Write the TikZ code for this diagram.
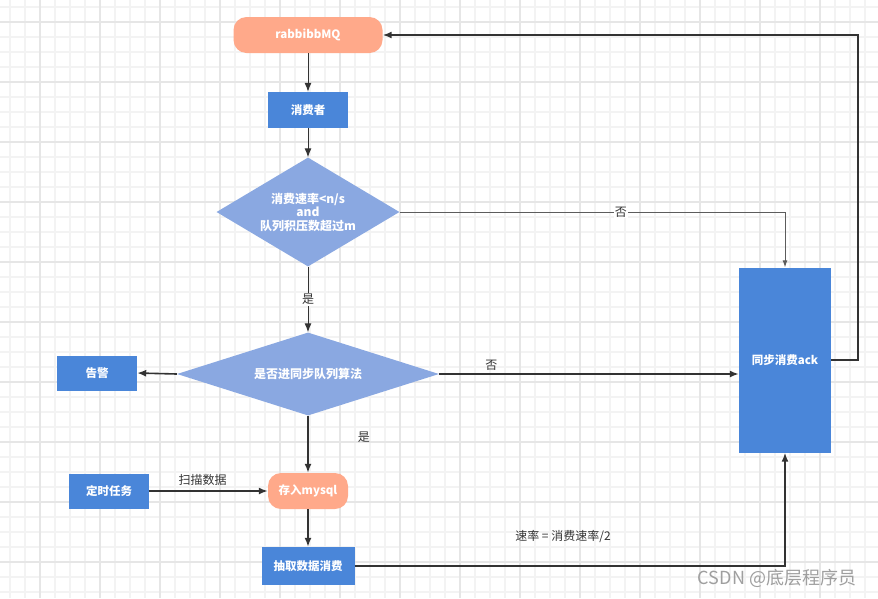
\documentclass[tikz,border=0pt]{standalone}
\usepackage{fontspec}
\setmainfont{Noto Sans CJK SC}
\usetikzlibrary{shapes.geometric,arrows.meta}
\definecolor{boxBlue}{HTML}{4A86D9}
\definecolor{diaBlue}{HTML}{8AA8E1}
\definecolor{peach}{HTML}{FFA98A}
\definecolor{lineGray}{HTML}{333333}
\definecolor{minorGray}{HTML}{F3F3F3}
\definecolor{majorGray}{HTML}{E6E6E6}

\begin{document}
\begin{tikzpicture}
[x=1pt,y=-1pt,
  boxDecorate/.style={rectangle,fill=boxBlue,text=white,inner sep=0pt,
    font=\fontsize{11.5}{13}\selectfont\bfseries},
  roundDecorate/.style={rectangle,rounded corners=13pt,fill=peach,text=white,
    inner sep=0pt,font=\fontsize{11.5}{13}\selectfont\bfseries},
  diamondDecorate/.style={diamond,fill=diaBlue,text=white,inner sep=0pt,
    align=center,font=\fontsize{12}{13.5}\selectfont\bfseries},
  lineDecorate/.style={-{Latex[length=9pt,width=7pt]},line width=1.6pt,draw=lineGray},
  thinDecorate/.style={-{Latex[length=7pt,width=5pt]},line width=0.9pt,draw=lineGray!80},
  labelDecorate/.style={text=lineGray,inner sep=1pt,font=\fontsize{12}{14}\selectfont}]
\useasboundingbox (0,0) rectangle (878,598);
%% background grid
\fill[white] (0,0) rectangle (878,598);
\foreach \x in {10,25,...,865}
  \draw[minorGray,line width=1.3pt] (\x,0) -- (\x,598);
\foreach \y in {7,22,...,592}
  \draw[minorGray,line width=1.3pt] (0,\y) -- (878,\y);
\foreach \x in {40,100,...,820}
  \draw[majorGray,line width=1.3pt] (\x,0) -- (\x,598);
\foreach \y in {22,82,...,562}
  \draw[majorGray,line width=1.3pt] (0,\y) -- (878,\y);
%% nodes
\node (mq) at (308,35) [roundDecorate,minimum width=149pt,minimum height=36pt] {rabbibbMQ};
\node (consumer) at (308,110) [boxDecorate,minimum width=80pt,minimum height=36pt] {消费者};
\node (check) at (308,212) [diamondDecorate,aspect=1.68,minimum width=183pt,minimum height=109pt]
  {消费速率<n/s\\and\\队列积压数超过m};
\node (sync) at (308,374) [diamondDecorate,aspect=3.16,minimum width=262pt,minimum height=83pt]
  {是否进同步队列算法};
\node (warn) at (97,373) [boxDecorate,minimum width=80pt,minimum height=35pt] {告警};
\node (ack) at (785,360) [boxDecorate,minimum width=92pt,minimum height=185pt] {同步消费ack};
\node (mysql) at (308,491) [roundDecorate,minimum width=80pt,minimum height=36pt] {存入mysql};
\node (timer) at (109,491) [boxDecorate,minimum width=80pt,minimum height=35pt] {定时任务};
\node (drain) at (308,566) [boxDecorate,minimum width=93pt,minimum height=38pt] {抽取数据消费};
\coordinate (loopTop) at (858,35);
%% edges
\draw[lineDecorate,line width=1pt] (mq) -- (consumer);
\draw[lineDecorate,line width=1pt] (consumer) -- (check);
\draw[lineDecorate,line width=1pt] (check) -- node[labelDecorate,fill=white] {是} (sync);
\draw[thinDecorate] (check.east) -| node[labelDecorate,fill=white,pos=0.287] {否} (ack.north);
\draw[lineDecorate] (sync.west) -- (warn.east);
\draw[lineDecorate] (sync.east) -- node[labelDecorate,pos=0.174,above=2pt] {否} (sync.east -| ack.west);
\draw[lineDecorate] (sync.south) -- node[labelDecorate,pos=0.38,right=48pt] {是} (mysql.north);
\draw[lineDecorate] (timer) -- node[labelDecorate,pos=0.45,above=4pt] {扫描数据} (mysql);
\draw[lineDecorate] (mysql) -- (drain);
\draw[lineDecorate] (drain.east) -| node[labelDecorate,pos=0.242,above=22pt] {速率 = 消费速率/2} (ack.south);
\draw[lineDecorate] (ack.east) -| (loopTop) -- (mq.east);
\node (mark) at (777,578) [text=gray!75,font=\fontsize{18}{20}\selectfont] {CSDN @底层程序员};
\end{tikzpicture}
\end{document}
